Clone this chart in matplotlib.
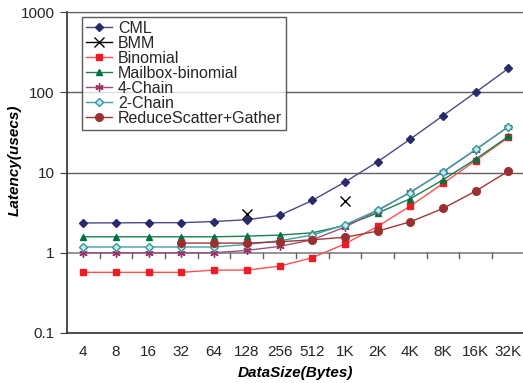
import matplotlib
matplotlib.use("Agg")
import matplotlib.pyplot as plt
import numpy as np

plt.rcParams['font.family'] = ['Liberation Sans', 'DejaVu Sans']
plt.rcParams['text.color'] = '#262626'
plt.rcParams['xtick.labelcolor'] = '#262626'
plt.rcParams['ytick.labelcolor'] = '#262626'

sizes = ["4", "8", "16", "32", "64", "128", "256", "512", "1K", "2K", "4K", "8K", "16K", "32K"]
nan = np.nan
cml = [2.35, 2.36, 2.37, 2.37, 2.45, 2.58, 2.92, 4.48, 7.6, 13.6, 26.1, 51, 100, 198]
bmm = [nan, nan, nan, nan, nan, 3.06, nan, nan, 4.44, nan, nan, nan, nan, nan]
binomial = [0.57, 0.57, 0.57, 0.57, 0.608, 0.608, 0.68, 0.867, 1.29, 2.13, 3.82, 7.3, 14.1, 27.3]
mailbox = [1.58, 1.58, 1.58, 1.58, 1.58, 1.61, 1.66, 1.77, 2.19, 3.12, 4.71, 8.1, 14.7, 28.1]
chain4 = [1.0, 1.0, 1.0, 1.0, 1.0, 1.07, 1.2, 1.45, 2.09, 3.34, 5.7, 10.1, 19.2, 37.2]
chain2 = [1.18, 1.18, 1.18, 1.18, 1.18, 1.27, 1.41, 1.66, 2.23, 3.4, 5.63, 10.2, 19.4, 37.2]
rsg = [nan, nan, nan, 1.32, 1.32, 1.32, 1.37, 1.45, 1.56, 1.86, 2.43, 3.56, 5.87, 10.4]

fig = plt.figure(figsize=(5.23, 3.83), dpi=100)
ax = fig.add_axes([67/523, 1-333/383, (524.7-67)/523, (333-12)/383])
x = np.arange(len(sizes))

ax.set_yscale('log')
ax.set_ylim(0.1, 1000)
ax.set_xlim(-0.5, len(sizes) - 0.5)

# gridlines
for v in [10, 100, 1000]:
    ax.axhline(v, color='#606060', lw=1.0, zorder=1)
ax.axhline(1, color='#808080', lw=1.2, zorder=1)
# category boundary ticks on the axis at y=1
for b in np.arange(0.5, len(sizes) - 0.5, 1.0):
    ax.plot([b, b], [1, 0.87], color='#606060', lw=1.0, zorder=1, clip_on=False)

ms = 4.5
ax.plot(x, cml, color='#4a4a8a', marker='D', ms=4, mfc='#2a2a6a', mec='#2a2a6a', lw=1.0, label='CML', zorder=3)
ax.plot(x, bmm, color='black', marker='x', ms=7, mew=1.0, lw=1.0, label='BMM', zorder=3)
ax.plot(x, binomial, color='#ff5050', marker='s', ms=ms, mfc='#ee1c24', mec='#ee1c24', lw=1.0, label='Binomial', zorder=3)
ax.plot(x, mailbox, color='#1a8050', marker='^', ms=5, mfc='#007040', mec='#007040', lw=1.0, label='Mailbox-binomial', zorder=3)
ax.plot(x, chain4, color='#a05080', marker=(6, 2, 0), ms=6, mec='#993366', mew=1.0, lw=1.0, label='4-Chain', zorder=3)
ax.plot(x, chain2, color='#40a0a8', marker='D', ms=4, mfc='#c8e8ec', mec='#30989c', mew=1.0, lw=1.0, label='2-Chain', zorder=3)
ax.plot(x, rsg, color='#a03838', marker='o', ms=5.5, mfc='#9b3030', mec='#9b3030', lw=1.0, label='ReduceScatter+Gather', zorder=3)

ax.set_xticks(x)
ax.set_xticklabels(sizes, fontsize=11)
ax.tick_params(axis='x', length=0, pad=9)
ax.set_yticks([0.1, 1, 10, 100, 1000])
ax.set_yticklabels(['0.1', '1', '10', '100', '1000'], fontsize=11)
ax.yaxis.set_minor_locator(matplotlib.ticker.NullLocator())
ax.tick_params(axis='y', length=5, pad=4, color='#404040')

for s in ['left', 'bottom']:
    ax.spines[s].set_color('#303030')
    ax.spines[s].set_linewidth(1.2)
ax.spines['top'].set_color('#606060')
ax.spines['right'].set_visible(False)

ax.set_xlabel('DataSize(Bytes)', fontsize=11, fontweight='bold', fontstyle='italic', labelpad=5)
ax.set_ylabel('Latency(usecs)', fontsize=11, fontweight='bold', fontstyle='italic')
ax.yaxis.set_label_coords((22 - 67) / 457.7, (333 - 160) / 321)

leg = ax.legend(loc='upper left', bbox_to_anchor=((82-67)/457.7, 1 - (17-12)/321), fontsize=11.5,
                frameon=True, fancybox=False, shadow=False, borderpad=0.25,
                labelspacing=0.0, handlelength=1.6, handletextpad=0.4, borderaxespad=0)
leg.get_frame().set_edgecolor('#303030')
leg.get_frame().set_linewidth(1.0)

fig.savefig('out.png', dpi=100)
